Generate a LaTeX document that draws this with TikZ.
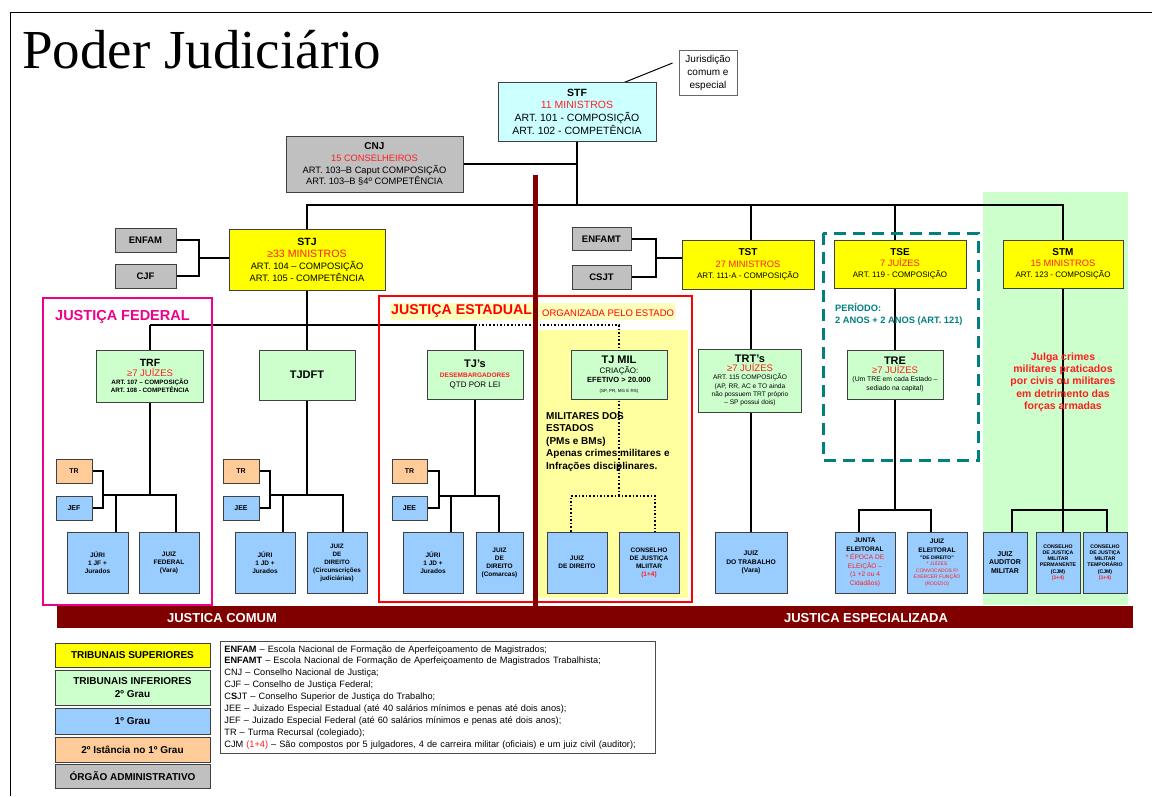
\documentclass[tikz,border=0pt]{standalone}
\usepackage{fontspec}
\setmainfont{Liberation Sans}
\newfontfamily\titlefont{Liberation Serif}
\usetikzlibrary{backgrounds, calc}
\definecolor{supyellow}{RGB}{255,255,0}
\definecolor{infgreen}{RGB}{204,255,204}
\definecolor{grblue}{RGB}{153,204,255}
\definecolor{insorange}{RGB}{255,204,153}
\definecolor{admgray}{RGB}{192,192,192}
\definecolor{stfcyan}{RGB}{204,255,255}
\definecolor{barred}{RGB}{128,0,0}
\definecolor{txtred}{RGB}{255,30,30}
\definecolor{milyellow}{RGB}{255,255,160}
\definecolor{eltealc}{RGB}{0,128,128}
\newcommand{\fsz}[2]{\fontsize{#1}{#2}\selectfont}
\tikzset{%
	box/.style={draw=black!75, line width=0.9pt, align=center, inner sep=1pt},
	sz/.style 2 args={minimum width=#1, minimum height=#2},
	supbox/.style={box, fill=supyellow},
	infbox/.style={box, fill=infgreen},
	grbox/.style={box, fill=grblue},
	insbox/.style={box, fill=insorange},
	admbox/.style={box, fill=admgray},
	conn/.style={line width=1.5pt, black},
	dotconn/.style={line width=1.6pt, black, dotted},
}

\begin{document}
\begin{tikzpicture}[x=1pt,y=-1pt]
	\useasboundingbox (0,0) rectangle (1152,796);
	\draw[line width=0.8pt] (10,796) -- (10,12) -- (1152,12);

	\node[anchor=base west, inner sep=0pt, font=\titlefont\fsz{55}{62}] (title) at (22,68) {Poder Judiciário};

	% topo
	\node[box, fill=stfcyan, sz={158}{59}, font=\fsz{10.5}{12.7}] (stf) at (577,111.5) {{\bfseries STF}\\{\color{txtred}11 MINISTROS}\\ART. 101 - COMPOSIÇÃO\\ART. 102 - COMPETÊNCIA};
	\node[box, draw=black!60, sz={58}{45}, font=\fsz{10}{13}] (jur) at (708,72.5) {Jurisdição\\comum e\\especial};
	\coordinate (jurtip) at (603,91);
	\node[admbox, sz={177}{56}, font=\fsz{9.3}{11.8}] (cnj) at (374.5,164) {{\bfseries\fsz{10}{11.8}CNJ}\\{\color{txtred}15 CONSELHEIROS}\\ART. 103–B Caput COMPOSIÇÃO\\ART. 103–B §4º COMPETÊNCIA};

	% tribunais superiores
	\node[admbox, sz={61}{24}, font=\bfseries\fsz{9.5}{11}] (enfam) at (145.5,240) {ENFAM};
	\node[admbox, sz={61}{24}, font=\bfseries\fsz{9.5}{11}] (cjf) at (145.5,276) {CJF};
	\node[supbox, sz={156}{61}, font=\fsz{9.3}{12}] (stj) at (307,259.5) {{\bfseries\fsz{10.5}{12}STJ}\\{\color{txtred}\fsz{10.6}{12}≥33 MINISTROS}\\ART. 104 – COMPOSIÇÃO\\ART. 105 - COMPETÊNCIA};
	\node[admbox, sz={59}{23}, font=\bfseries\fsz{9.5}{11}] (enfamt) at (601.5,239) {ENFAMT};
	\node[admbox, sz={59}{24}, font=\bfseries\fsz{9.5}{11}] (csjt) at (601.5,277) {CSJT};
	\node[supbox, sz={132}{49}, font=\fsz{8}{11.3}] (tst) at (748,264.5) {{\bfseries\fsz{10}{11}TST}\\{\color{txtred}\fsz{9.3}{11}27 MINISTROS}\\ART. 111-A - COMPOSIÇÃO};
	\node[supbox, sz={132}{48}, font=\fsz{8}{11.3}] (tse) at (900,264) {{\bfseries\fsz{10}{11}TSE}\\{\color{txtred}\fsz{9.3}{11}7 JUÍZES}\\ART. 119 - COMPOSIÇÃO};
	\node[supbox, sz={120}{48}, font=\fsz{8}{11.3}] (stm) at (1063,264) {{\bfseries\fsz{10}{11}STM}\\{\color{txtred}\fsz{9.3}{11}15 MINISTROS}\\ART. 123 - COMPOSIÇÃO};

	% tribunais inferiores
	\node[infbox, sz={107}{52}, font=\bfseries\fsz{6.3}{8.2}] (trf) at (150,376) {{\fsz{10.5}{12}TRF}\\{\mdseries\color{txtred}\fsz{9.5}{11}≥7 JUÍZES}\\ART. 107 – COMPOSIÇÃO\\ART. 108 - COMPETÊNCIA};
	\node[infbox, sz={96}{50}, font=\bfseries\fsz{11}{13}] (tjdft) at (307,375) {TJDFT};
	\node[infbox, sz={96}{49}, font=\fsz{8}{10}] (tjs) at (475,374.5) {{\bfseries\fsz{11}{12}TJ's}\\{\bfseries\color{txtred}\fsz{6.5}{8}DESEMBARGADORES}\\QTD POR LEI};
	\node[infbox, sz={96}{49}, font=\fsz{8}{9.5}] (tjmil) at (619,374.5) {{\bfseries\fsz{11}{12}TJ MIL}\\CRIAÇÃO:\\{\bfseries\fsz{7.5}{9}EFETIVO > 20.000}\\{\fsz{4.5}{5}(SP, PR, MG E RS)}};
	\node[infbox, sz={103}{63}, font=\fsz{6.6}{8.3}] (trt) at (750,380.5) {{\bfseries\fsz{11}{12}TRT's}\\{\color{txtred}\fsz{9.5}{11}≥7 JUÍZES}\\ART. 115 COMPOSIÇÃO\\(AP, RR, AC e TO ainda\\não possuem TRT próprio\\– SP possui dois)};
	\node[infbox, sz={96}{49}, font=\fsz{6.8}{8.8}] (tre) at (895,374.5) {{\bfseries\fsz{11}{12}TRE}\\{\color{txtred}\fsz{9.5}{11}≥7 JUÍZES}\\(Um TRE em cada Estado –\\sediado na capital)};

	% 1o grau
	\node[insbox, sz={36}{24}, font=\bfseries\fsz{7}{8}] (tr1) at (74,471) {TR};
	\node[grbox, sz={36}{24}, font=\bfseries\fsz{7}{8}] (jef) at (74,508) {JEF};
	\node[grbox, sz={61}{61}, font=\bfseries\fsz{6.5}{8}] (jurif) at (97.5,562.5) {JÚRI\\1 JF +\\Jurados};
	\node[grbox, sz={60}{61}, font=\bfseries\fsz{6.5}{8}] (juizf) at (169,562.5) {JUIZ\\FEDERAL\\(Vara)};

	\node[insbox, sz={36}{24}, font=\bfseries\fsz{7}{8}] (tr2) at (241,471) {TR};
	\node[grbox, sz={36}{24}, font=\bfseries\fsz{7}{8}] (jee1) at (241,508) {JEE};
	\node[grbox, sz={60}{61}, font=\bfseries\fsz{6.5}{8}] (jurid) at (265,562.5) {JÚRI\\1 JD +\\Jurados};
	\node[grbox, sz={60}{61}, font=\bfseries\fsz{6.3}{8}] (juizd) at (337,562.5) {JUIZ\\DE\\DIREITO\\(Circunscrições\\judiciárias)};

	\node[insbox, sz={35}{24}, font=\bfseries\fsz{7}{8}] (tr3) at (409.5,471) {TR};
	\node[grbox, sz={35}{24}, font=\bfseries\fsz{7}{8}] (jee2) at (409.5,508) {JEE};
	\node[grbox, sz={60}{61}, font=\bfseries\fsz{6.5}{8}] (jurie) at (433,562.5) {JÚRI\\1 JD +\\Jurados};
	\node[grbox, sz={47}{61}, font=\bfseries\fsz{6.5}{8}] (juize) at (499.5,562.5) {JUIZ\\DE\\DIREITO\\(Comarcas)};

	\node[grbox, sz={60}{61}, font=\bfseries\fsz{6.5}{8}] (juizm) at (577,562.5) {JUIZ\\DE DIREITO};
	\node[grbox, sz={60}{61}, font=\bfseries\fsz{6.5}{8}] (cjme) at (649,562.5) {CONSELHO\\DE JUSTIÇA\\MLIITAR\\{\color{txtred}(1+4)}};

	\node[grbox, sz={72}{61}, font=\bfseries\fsz{6.7}{8.5}] (jtrab) at (751,562.5) {JUIZ\\DO TRABALHO\\(Vara)};
	\node[grbox, sz={60}{61}, font=\fsz{6.6}{8.6}] (junta) at (865,562.5) {{\bfseries JUNTA}\\{\bfseries ELEITORAL}\\{\color{txtred}* ÉPOCA DE}\\{\color{txtred}ELEIÇÃO –}\\{\color{txtred}(1 +2 ou 4}\\{\color{txtred}Cidadãos)}};
	\node[grbox, sz={60}{61}, font=\fsz{5}{6.5}] (juizel) at (937,562.5) {{\bfseries\fsz{6.6}{8}JUIZ}\\[2.5pt]{\bfseries\fsz{6.6}{8}ELEITORAL}\\{\bfseries "DE DIREITO"}\\{\color{txtred}* JUÍZES}\\{\color{txtred}CONVOCADOS P/}\\{\color{txtred}EXERCER FUNÇÃO}\\{\color{txtred}(RODÍZIO)}};

	\node[grbox, sz={44}{61}, font=\bfseries\fsz{7}{8.5}] (jaud) at (1005,562.5) {JUIZ\\AUDITOR\\MILITAR};
	\node[grbox, sz={44}{61}, font=\bfseries\fsz{5.2}{6.3}] (cjmp) at (1058,562.5) {CONSELHO\\DE JUSTIÇA\\MILITAR\\PERMANENTE\\(CJM)\\{\color{txtred}(1+4)}};
	\node[grbox, sz={44}{61}, font=\bfseries\fsz{5.2}{6.3}] (cjmt) at (1105,562.5) {CONSELHO\\DE JUSTIÇA\\MILITAR\\TEMPORÁRIO\\(CJM)\\{\color{txtred}(1+4)}};

	% pontos de ligacao
	\coordinate (bus) at (0,205);
	\coordinate (mid) at (0,325);
	\coordinate (ej) at (199,258);
	\coordinate (tj) at (656,258);
	\coordinate (fa) at (103,495); \coordinate (fb) at (116,495); \coordinate (fc) at (176,495);
	\coordinate (da) at (270,495); \coordinate (db) at (283,495); \coordinate (dc) at (343,495);
	\coordinate (ea) at (439,496); \coordinate (eb) at (451,496); \coordinate (ec) at (499,496);
	\coordinate (ma) at (571,496); \coordinate (mb) at (655,496);
	\coordinate (la) at (859,510); \coordinate (lb) at (931,510);
	\coordinate (sa) at (1012,510); \coordinate (sb) at (1107,510);

	\begin{pgfonlayer}{background}
		\fill[infgreen] (983,192) rectangle (1128,605);
		\fill[milyellow] (538,330) rectangle (688,598);
		\fill[milyellow!70] (390,303) rectangle (675,320);

		\draw[line width=1pt] (jurtip) -- ($(jur.west)+(-6,-9.5)$);
		\draw[conn] (stf) -- (stf |- bus);
		\draw[conn] (cnj.east) -- (cnj.east -| stf);
		\draw[conn] (stj) -- (stj |- bus) -- (stm |- bus) -- (stm |- sa);
		\draw[conn] (jtrab |- bus) -- (jtrab.north);
		\draw[conn] (tre |- bus) -- (tre |- la);

		\draw[conn] (enfam.east) -| (ej) |- (cjf.east);
		\draw[conn] (ej) -- (ej -| stj.west);
		\draw[conn] (enfamt.east) -| (tj) |- (csjt.east);
		\draw[conn] (tj) -- (tj -| tst.west);

		% justica comum
		\draw[conn] (stj) -- (stj |- dc);
		\draw[conn] (trf |- mid) -- (tjs |- mid);
		\draw[conn] (trf |- mid) -- (trf |- fa);
		\draw[conn] (tjs |- mid) -- (tjs |- ea);
		\draw[dotconn] (tjs |- mid) -- (tjmil |- mid) -- (tjmil |- ma);

		\draw[conn] (tr1.east) -| (fa) |- (jef.east);
		\draw[conn] (fa) -- (fc) -- (fc |- juizf.north);
		\draw[conn] (fb) -- (fb |- jurif.north);

		\draw[conn] (tr2.east) -| (da) |- (jee1.east);
		\draw[conn] (da) -- (dc) -- (dc |- juizd.north);
		\draw[conn] (db) -- (db |- jurid.north);

		\draw[conn] (tr3.east) -| (ea) |- (jee2.east);
		\draw[conn] (ea) -- (ec) -- (ec |- juize.north);
		\draw[conn] (eb) -- (eb |- jurie.north);

		\draw[dotconn] (ma |- juizm.north) -- (ma) -- (mb) -- (mb |- cjme.north);

		% justica especializada
		\draw[conn] (la |- junta.north) -- (la) -- (lb) -- (lb |- juizel.north);
		\draw[conn] (sa |- jaud.north) -- (sa) -- (sb) -- (sb |- cjmt.north);
		\draw[conn] (stm |- sa) -- (stm |- cjmp.north);
	\end{pgfonlayer}

	% molduras
	\draw[magenta, line width=2.5pt] (43,298) rectangle (212,605);
	\draw[red, line width=2.5pt] (379,296) rectangle (692,602);
	\draw[eltealc, line width=3pt, dash pattern=on 12pt off 7pt] (823,233) rectangle (978,460);

	\node[anchor=west, inner sep=0pt, font=\bfseries\fsz{14.5}{16}, text=magenta] (jfed) at (55,317) {JUSTIÇA FEDERAL};
	\node[anchor=west, inner sep=0pt, font=\bfseries\fsz{14.2}{16}, text=red] (jest) at (391,311) {JUSTIÇA ESTADUAL};
	\node[anchor=west, inner sep=0pt, font=\fsz{9.5}{11}, text=red] (jorg) at (542,313) {ORGANIZADA PELO ESTADO};
	\node[anchor=north west, align=left, inner sep=0pt, font=\bfseries\fsz{10}{12.5}] (milest) at (546,412) {MILITARES DOS\\ESTADOS\\(PMs e BMs)\\Apenas crimes militares e\\Infrações disciplinares.};
	\node[anchor=north west, align=left, inner sep=0pt, font=\bfseries\fsz{9.3}{12}, text=eltealc] (periodo) at (835,303) {PERÍODO:\\2 ANOS + 2 ANOS (ART. 121)};
	\node[align=center, inner sep=0pt, font=\bfseries\fsz{10.5}{12.3}, text=txtred] (stmtxt) at (1063,382) {Julga crimes\\militares praticados\\por civis ou militares\\em detrimento das\\forças armadas};

	% faixa inferior
	\node[fill=barred, sz={1076}{22}, inner sep=0pt] (bar) at (595,617) {};
	\node[font=\bfseries\fsz{13}{15}, text=white] (jcomum) at (222,618) {JUSTICA COMUM};
	\node[font=\bfseries\fsz{13}{15}, text=white] (jesp) at (866,618) {JUSTICA ESPECIALIZADA};
	\coordinate (divtop) at (535,175);
	\draw[barred, line width=5pt] (divtop) -- (divtop |- bar.north);

	% legenda
	\node[supbox, sz={155}{24}, font=\bfseries\fsz{10}{12}] (lsup) at (132.5,655) {TRIBUNAIS SUPERIORES};
	\node[infbox, sz={155}{35}, font=\bfseries\fsz{10}{13}] (linf) at (132.5,687.5) {TRIBUNAIS INFERIORES\\2º Grau};
	\node[grbox, sz={155}{26}, font=\bfseries\fsz{10}{12}] (lgr) at (132.5,721) {1º Grau};
	\node[insbox, sz={155}{25}, font=\bfseries\fsz{10}{12}] (lins) at (132.5,749.5) {2º Istância no 1º Grau};
	\node[admbox, sz={155}{24}, font=\bfseries\fsz{10}{12}] (ladm) at (132.5,776) {ÓRGÃO ADMINISTRATIVO};
	\node[box, draw=black!70, line width=0.8pt, anchor=north west, align=left, text width=427pt, minimum height=111pt, inner sep=4pt, font=\fsz{9.2}{11.9}] (ltxt) at (220,641) {%
		\textbf{ENFAM} – Escola Nacional de Formação de Aperfeiçoamento de Magistrados;\\
		\textbf{ENFAMT} – Escola Nacional de Formação de Aperfeiçoamento de Magistrados Trabalhista;\\
		CNJ – Conselho Nacional de Justiça;\\
		CJF – Conselho de Justiça Federal;\\
		C\textbf{S}JT – Conselho Superior de Justiça do Trabalho;\\
		JEE – Juizado Especial Estadual (até 40 salários mínimos e penas até dois anos);\\
		JEF – Juizado Especial Federal (até 60 salários mínimos e penas até dois anos);\\
		TR – Turma Recursal (colegiado);\\
		CJM {\color{txtred}(1+4)} – São compostos por 5 julgadores, 4 de carreira militar (oficiais) e um juiz civil (auditor);};
\end{tikzpicture}
\end{document}
